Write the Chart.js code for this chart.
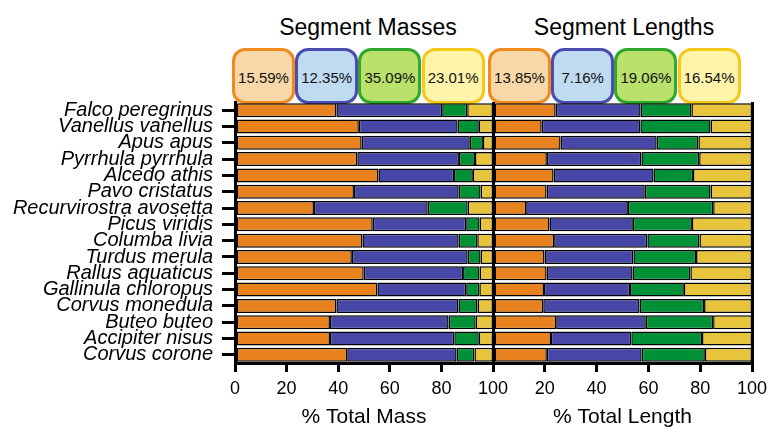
<!DOCTYPE html>
<html>
<head>
<meta charset="utf-8">
<script src="https://cdn.jsdelivr.net/npm/chart.js@4/dist/chart.umd.min.js"></script>
<style>
  html, body { margin: 0; padding: 0; background: #fff; }
  #wrap { position: relative; width: 771px; height: 427px; overflow: hidden; font-family: "Liberation Sans", Arial, sans-serif; }
  canvas { position: absolute; left: 0; top: 0; }
  .ttl { position: absolute; top: 12px; font-size: 23px; color: #000; text-align: center; width: 260px; line-height: 30px; }
  .box { position: absolute; top: 48px; width: 57px; height: 48px; border: 3px solid; border-radius: 13px;
         font-size: 15px; color: #111; display: flex; align-items: center; justify-content: center; padding-top: 2px; }
</style>
</head>
<body>
<div id="wrap">
  <div class="ttl" style="left:238px">Segment Masses</div>
  <div class="ttl" style="left:494px">Segment Lengths</div>
  <div id="boxes"></div>
  <canvas id="massChart" width="771" height="427"></canvas>
  <canvas id="lengthChart" width="771" height="427"></canvas>
</div>
<script>
// Species, top to bottom
const species = [
  'Falco peregrinus', 'Vanellus vanellus', 'Apus apus', 'Pyrrhula pyrrhula',
  'Alcedo athis', 'Pavo cristatus', 'Recurvirostra avosetta', 'Picus viridis',
  'Columba livia', 'Turdus merula', 'Rallus aquaticus', 'Gallinula chloropus',
  'Corvus monedula', 'Buteo buteo', 'Accipiter nisus', 'Corvus corone'
];
const segmentNames = ['Segment 1', 'Segment 2', 'Segment 3', 'Segment 4'];

// % of total mass per segment
const massSeg1 = [39.3, 48.0, 49.1, 47.4, 55.6, 46.1, 30.6, 53.4, 49.4, 45.3, 49.9, 55.2, 39.3, 36.8, 36.8, 43.5];
const massSeg2 = [41.0, 38.3, 41.9, 39.4, 29.3, 40.6, 44.1, 36.2, 37.3, 44.9, 38.5, 34.4, 47.3, 46.0, 48.2, 42.4];
const massSeg3 = [9.7, 8.2, 5.1, 6.2, 7.3, 8.5, 15.5, 5.2, 7.2, 5.0, 6.4, 5.1, 7.4, 10.5, 9.5, 6.9];
const massSeg4 = [10.0, 5.5, 3.9, 7.0, 7.8, 4.8, 9.8, 5.2, 6.1, 4.8, 5.2, 5.3, 6.0, 6.7, 5.5, 7.2];

// % of total length per segment
const lenSeg1 = [24.2, 18.8, 26.1, 20.8, 23.4, 20.7, 12.8, 21.8, 23.6, 19.9, 20.7, 19.7, 19.4, 24.4, 22.4, 20.8];
const lenSeg2 = [32.8, 38.1, 37.1, 36.5, 38.6, 37.9, 39.3, 32.2, 36.0, 34.3, 33.2, 33.2, 37.2, 34.6, 31.0, 36.6];
const lenSeg3 = [19.6, 27.1, 16.1, 22.3, 15.2, 25.4, 32.9, 22.8, 20.1, 24.2, 22.3, 20.8, 24.9, 26.0, 27.3, 24.4];
const lenSeg4 = [23.4, 16.0, 20.7, 20.4, 22.8, 16.0, 15.0, 23.2, 20.3, 21.6, 23.8, 26.3, 18.5, 15.0, 19.3, 18.2];

// Summary percentages shown above each panel
const massSummary = ['15.59%', '12.35%', '35.09%', '23.01%'];
const lengthSummary = ['13.85%', '7.16%', '19.06%', '16.54%'];

const xTicks = [0, 20, 40, 60, 80, 100];

const barColors = ['#E8821E', '#4747A8', '#009137', '#E8C43C'];
const boxBorders = ['#F08A1C', '#4C4CB0', '#2EA82A', '#F5C81A'];
const boxFills = ['#F8D8A8', '#BEDBF1', '#B9E16C', '#FFF4AA'];

// summary boxes
const boxHost = document.getElementById('boxes');
function addBoxes(values, x0) {
  values.forEach((v, i) => {
    const d = document.createElement('div');
    d.className = 'box';
    d.style.left = (x0 + i * 63.2) + 'px';
    d.style.borderColor = boxBorders[i];
    d.style.background = boxFills[i];
    d.textContent = v;
    boxHost.appendChild(d);
  });
}
addBoxes(massSummary, 232);
addBoxes(lengthSummary, 488);

Chart.defaults.font.family = '"Liberation Sans", Arial, sans-serif';
Chart.defaults.color = '#000';

function makeDatasets(series) {
  return series.map((data, i) => ({
    label: segmentNames[i],
    data: data,
    backgroundColor: barColors[i],
    borderColor: '#000',
    borderWidth: 1.5,
    borderSkipped: false,
    barPercentage: 0.86,
    categoryPercentage: 1.0
  }));
}

const TOP = 102;
const BOTTOM_AXIS_H = 64;

function xScale(title, hideZero) {
  return {
    type: 'linear', stacked: true, min: 0, max: 100,
    afterBuildTicks: s => { s.ticks = xTicks.map(v => ({ value: v })); },
    afterFit: s => {
      s.height = BOTTOM_AXIS_H;
      // plot edges are fixed by the layout padding
      s.paddingLeft = 0;
      s.paddingRight = 0;
    },
    border: { display: true, color: '#000', width: 3 },
    grid: {
      drawOnChartArea: true,
      color: c => (c.tick && c.tick.value === 100) ? '#000' : 'rgba(0,0,0,0)',
      lineWidth: 3,
      drawTicks: true, tickLength: 9, tickColor: '#000', tickWidth: 3
    },
    ticks: {
      font: { size: 18 }, color: '#000', padding: 6, maxRotation: 0,
      callback: v => (hideZero && v === 0) ? '' : String(v)
    },
    title: { display: true, text: title, font: { size: 21, lineHeight: 0.9 }, color: '#000', padding: { top: 0, bottom: 0 } }
  };
}

new Chart(document.getElementById('massChart'), {
  type: 'bar',
  data: { labels: species, datasets: makeDatasets([massSeg1, massSeg2, massSeg3, massSeg4]) },
  options: {
    indexAxis: 'y', responsive: false, animation: false, devicePixelRatio: 1,
    layout: { padding: { left: 0, right: 278, top: TOP, bottom: 0 } },
    plugins: { legend: { display: false }, tooltip: { enabled: false } },
    scales: {
      x: xScale('% Total Mass', false),
      y: {
        type: 'category', stacked: true,
        afterFit: s => { s.width = 235; },
        border: { display: true, color: '#000', width: 3 },
        grid: { drawOnChartArea: false, offset: false, drawTicks: true, tickLength: 13, tickColor: '#000', tickWidth: 3 },
        ticks: { autoSkip: false, font: { size: 20, style: 'italic', lineHeight: 1.0 }, color: '#000', padding: 9 }
      }
    }
  }
});

new Chart(document.getElementById('lengthChart'), {
  type: 'bar',
  data: { labels: species, datasets: makeDatasets([lenSeg1, lenSeg2, lenSeg3, lenSeg4]) },
  options: {
    indexAxis: 'y', responsive: false, animation: false, devicePixelRatio: 1,
    layout: { padding: { left: 493, right: 19, top: TOP, bottom: 0 } },
    plugins: { legend: { display: false }, tooltip: { enabled: false } },
    scales: {
      x: xScale('% Total Length', true),
      y: { type: 'category', stacked: true, display: false }
    }
  }
});
</script>
</body>
</html>
